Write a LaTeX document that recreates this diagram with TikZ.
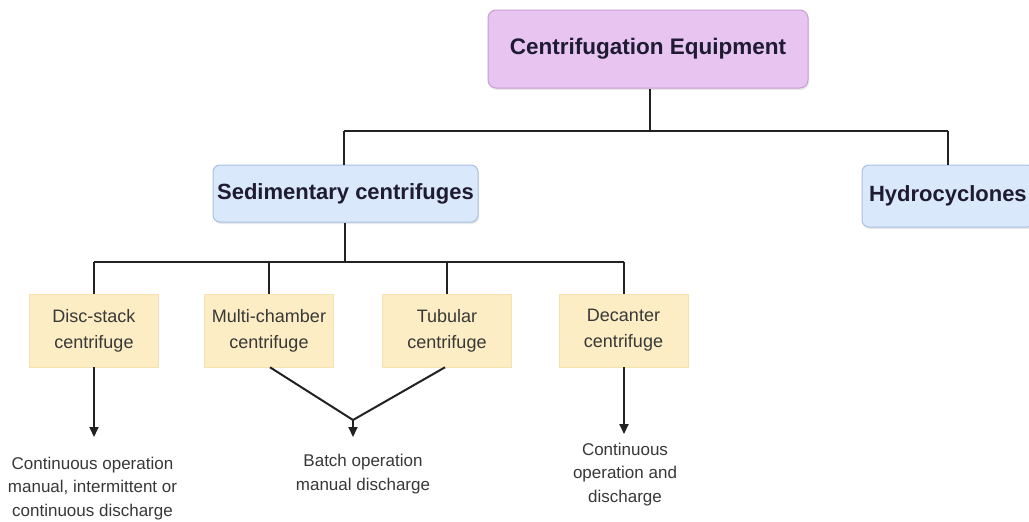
\documentclass[tikz,border=0pt]{standalone}
\usepackage{fontspec}
\setmainfont{Liberation Sans}
\usetikzlibrary{arrows.meta,shadows}
\definecolor{purpfill}{HTML}{E7C5F0}
\definecolor{purpline}{HTML}{C99DD6}
\definecolor{bluefill}{HTML}{DAE8FB}
\definecolor{blueline}{HTML}{A8C0E4}
\definecolor{yelfill}{HTML}{FDEDC4}
\definecolor{yelline}{HTML}{F6E2AE}
\definecolor{ink}{HTML}{222222}
\definecolor{titleink}{HTML}{1E1B33}
\tikzset{
  topbox/.style={draw=purpline, fill=purpfill, rounded corners=8pt, line width=1pt,
    minimum width=320pt, minimum height=78pt, inner sep=0pt,
    font=\fontsize{22.5}{26}\selectfont\bfseries, text=titleink,
    drop shadow={opacity=0.18, shadow xshift=1pt, shadow yshift=-2pt}},
  catbox/.style={draw=blueline, fill=bluefill, rounded corners=7pt, line width=1pt,
    inner sep=0pt, font=\fontsize{22}{26}\selectfont\bfseries, text=titleink,
    drop shadow={opacity=0.18, shadow xshift=1pt, shadow yshift=-2pt}},
  typebox/.style={draw=yelline, fill=yelfill, line width=0.6pt,
    minimum width=129pt, minimum height=73pt, inner sep=0pt, align=center,
    font=\fontsize{18}{26}\selectfont, text=ink!90},
  note/.style={align=center, inner sep=0pt, font=\fontsize{17}{23.5}\selectfont, text=ink!90},
  link/.style={draw=ink, line width=2pt},
  arr/.style={link, -{Triangle[width=9pt,length=10pt]}}
}
\begin{document}
\begin{tikzpicture}[x=1pt,y=-1pt]
\clip (0,0) rectangle (1029,522);
\fill[white] (0,0) rectangle (1029,522);

\node[topbox] (top) at (648,49) {Centrifugation Equipment};
\node[catbox, minimum width=265pt, minimum height=57pt] (sed) at (345.5,193.5) {Sedimentary centrifuges};
\node[catbox, minimum width=172pt, minimum height=62pt, text width=172pt, align=left] (hyd) at (948,196) {\hspace{7pt}Hydrocyclones};

\node[typebox] (disc) at (94,330.5) {Disc-stack\\centrifuge};
\node[typebox] (multi) at (269,330.5) {Multi-chamber\\centrifuge};
\node[typebox] (tub) at (447,330.5) {Tubular\\centrifuge};
\node[typebox] (dec) at (623.5,330.5) {Decanter\\centrifuge};

\node[note] (n1) at (92.5,488.5) {Continuous operation\\manual, intermittent or\\continuous discharge};
\node[note] (n2) at (363,474) {Batch operation\\manual discharge};
\node[note] (n3) at (625,474.5) {Continuous\\operation and\\discharge};

\coordinate (j0) at (650,131);
\coordinate (j0l) at (344,131);
\coordinate (j0r) at (948,131);
\coordinate (j1) at (345,262);
\coordinate (j1l) at (94,262);
\coordinate (j1r) at (624,262);
\coordinate (v) at (353,420);
\coordinate (a1) at (94,437);
\coordinate (a2) at (353,437);
\coordinate (a3) at (624,434);

% top level
\draw[link] (top.south -| j0) -- (j0);
\draw[link] (j0l) -- (j0r);
\draw[link] (j0l) -- (sed.north -| j0l);
\draw[link] (j0r) -- (hyd.north -| j0r);
% second level
\draw[link] (sed.south -| j1) -- (j1);
\draw[link] (j1l) -- (j1r);
\draw[link] (j1l) -- (disc.north);
\draw[link] (j1 -| multi) -- (multi.north);
\draw[link] (j1 -| tub) -- (tub.north);
\draw[link] (j1r) -- (dec.north -| j1r);
% outcomes
\draw[arr] (disc.south) -- (a1);
\draw[link, line join=round] ([xshift=1pt]multi.south) -- (v) -- ([xshift=-2pt]tub.south);
\draw[arr] (v) -- (a2);
\draw[arr] (dec.south -| a3) -- (a3);
\end{tikzpicture}
\end{document}
